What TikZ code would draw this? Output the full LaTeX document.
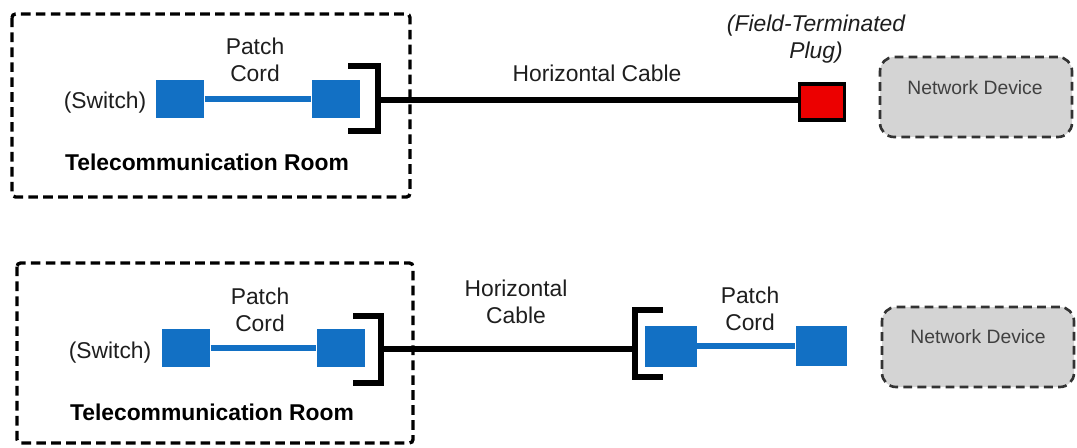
\documentclass[tikz,border=0pt]{standalone}
\usepackage{fontspec}
\setmainfont{Liberation Sans}
\usetikzlibrary{positioning}

\definecolor{portblue}{RGB}{18,112,196}
\definecolor{plugred}{RGB}{236,0,0}
\definecolor{devgray}{RGB}{212,212,212}
\definecolor{txtgray}{RGB}{30,30,30}

\tikzset{
  roombox/.style={line width=1.9pt, dash pattern=on 5.5pt off 3pt, rounded corners=2pt},
  port/.style={fill=portblue, minimum width=0.97cm, minimum height=0.77cm, inner sep=0pt},
  cord/.style={portblue, line width=3pt},
  cable/.style={black, line width=3.3pt},
  jack/.style={black, line width=3.4pt},
  fieldplug/.style={fill=plugred, draw=black, line width=2pt, minimum width=0.9cm, minimum height=0.72cm, inner sep=0pt},
  device/.style={fill=devgray, draw=black!80, line width=1.5pt, dash pattern=on 5pt off 3pt,
                 rounded corners=8pt, minimum width=3.84cm, minimum height=1.6cm},
  lbl/.style={text=txtgray, font=\fontsize{13}{15.5}\selectfont, align=center, inner sep=0pt},
  roomlbl/.style={font=\fontsize{13}{15.5}\selectfont\bfseries, inner sep=0pt},
  devlbl/.style={text=black!75, font=\fontsize{11}{13}\selectfont, inner sep=0pt}
}

\begin{document}
\begin{tikzpicture}[x=0.02cm, y=-0.02cm]

    \useasboundingbox (0,0) rectangle (1077,447);

    % --- Top: field-terminated plug ---
    \draw[roombox] (12,14) rectangle (410,197);

    \node[port] (SwA) at (180,99) {};
    \node[port] (PpA) at (336,99) {};
    \draw[cord] (SwA) -- (PpA);

    \coordinate (A1) at (348,66);
    \coordinate (A2) at (378,66);
    \coordinate (A3) at (378,131);
    \coordinate (A4) at (348,131);
    \coordinate (Ac) at (378,100);
    \draw[jack] (A1) -- (A2) -- (A3) -- (A4);

    \node[fieldplug] (Plug) at (822,102) {};
    \draw[cable] (Ac) -- (Ac -| Plug.west);

    \node[device] (DevA) at (976,97) {};
    \node[devlbl] (DevAtxt) at (975,88) {Network Device};

    \node[lbl] (CordA) at (255,60) {Patch\\Cord};
    \node[lbl] (SwAtxt) at (105,103) {(Switch)};
    \node[roomlbl] (RoomA) at (207,162) {Telecommunication Room};
    \node[lbl] (CableA) at (597,73) {Horizontal Cable};
    \node[lbl, font=\fontsize{13}{15.5}\selectfont\itshape] (PlugTxt) at (816,39) {(Field-Terminated\\Plug)};

    % --- Bottom: patch cord at the device ---
    \draw[roombox] (17,263) rectangle (413,443);

    \node[port] (SwB) at (186,348) {};
    \node[port] (PpB) at (341,348) {};
    \draw[cord] (SwB) -- (PpB);

    \coordinate (B1) at (353,316);
    \coordinate (B2) at (381,316);
    \coordinate (B3) at (381,383);
    \coordinate (B4) at (353,383);
    \coordinate (Bc) at (381,349);
    \draw[jack] (B1) -- (B2) -- (B3) -- (B4);

    \coordinate (C1) at (663,310);
    \coordinate (C2) at (635,310);
    \coordinate (C3) at (635,377);
    \coordinate (C4) at (663,377);
    \coordinate (Cc) at (635,349);
    \draw[jack] (C1) -- (C2) -- (C3) -- (C4);
    \draw[cable] (Bc) -- (Cc);

    \node[port, minimum width=1.04cm, minimum height=0.82cm] (PpC) at (671,346) {};
    \node[port, minimum width=1.02cm, minimum height=0.8cm] (PpD) at (821,346) {};
    \draw[cord] (PpC) -- (PpD);

    \node[device] (DevB) at (978,347) {};
    \node[devlbl] (DevBtxt) at (978,337) {Network Device};

    \node[lbl] (CordB) at (260,310) {Patch\\Cord};
    \node[lbl] (SwBtxt) at (110,353) {(Switch)};
    \node[roomlbl] (RoomB) at (212,412) {Telecommunication Room};
    \node[lbl] (CableB) at (516,302) {Horizontal\\Cable};
    \node[lbl] (CordC) at (750,309) {Patch\\Cord};

\end{tikzpicture}
\end{document}
